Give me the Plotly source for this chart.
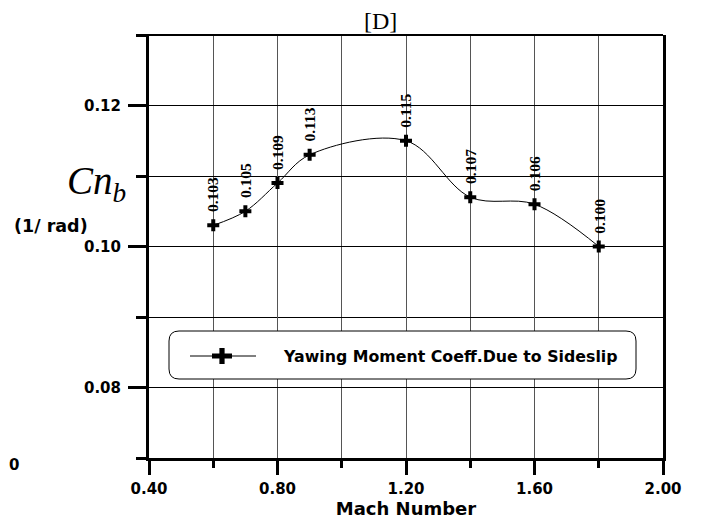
import plotly.graph_objects as go

# ---- data ----
mach = [0.6, 0.7, 0.8, 0.9, 1.2, 1.4, 1.6, 1.8]
cnb = [0.103, 0.105, 0.109, 0.113, 0.115, 0.107, 0.106, 0.100]
value_labels = ["0.103", "0.105", "0.109", "0.113", "0.115", "0.107", "0.106", "0.100"]
series_name = "Yawing Moment Coeff.Due to Sideslip"
x_ticks = [0.4, 0.8, 1.2, 1.6, 2.0]
y_ticks = [0.08, 0.10, 0.12]

PAGE_W, PAGE_H = 703, 519
OFF = 8  # default body margin of the html page
W, H = PAGE_W - OFF, PAGE_H - OFF
L, R, T, B = 149, 663, 35, 458  # plot area in page pixels


def px(p):
    return (p - L) / (R - L)


def py(p):
    return (B - p) / (B - T)


SANS = "DejaVu Sans"
SERIF = "Liberation Serif"

fig = go.Figure()
fig.add_trace(go.Scatter(
    x=mach, y=cnb, name=series_name, mode="lines+markers",
    line=dict(color="black", width=1, shape="spline", smoothing=1.0),
    marker=dict(symbol="cross", size=10, color="black", line=dict(width=0)),
    showlegend=False,
))

annotations = []
for xv, yv, lab in zip(mach, cnb, value_labels):
    annotations.append(dict(
        x=xv, y=yv, xref="x", yref="y", text=lab, textangle=-90,
        showarrow=False, xanchor="center", yanchor="bottom", yshift=11,
        font=dict(family=SERIF, size=15.5, color="black", weight="bold"),
    ))

# title
annotations.append(dict(
    x=px(380), y=py(21), xref="paper", yref="paper", text="[D]",
    showarrow=False, xanchor="center", yanchor="middle",
    font=dict(family=SERIF, size=24, color="black"),
))
# y-axis titles
annotations.append(dict(
    x=px(65), y=py(184), xref="paper", yref="paper", text="<i>Cn<sub>b</sub></i>",
    showarrow=False, xanchor="left", yanchor="middle",
    font=dict(family=SERIF, size=39, color="black"),
))
annotations.append(dict(
    x=px(12), y=py(226), xref="paper", yref="paper", text="(1/ rad)",
    showarrow=False, xanchor="left", yanchor="middle",
    font=dict(family=SANS, size=17.5, color="black", weight="bold"),
))
# clipped stray label at bottom-left
annotations.append(dict(
    x=px(OFF - 1), y=py(465), xref="paper", yref="paper", text="0",
    showarrow=False, xanchor="left", yanchor="middle",
    font=dict(family=SANS, size=15, color="black", weight="bold"),
))
# legend text
annotations.append(dict(
    x=px(281), y=py(356), xref="paper", yref="paper", text=series_name,
    showarrow=False, xanchor="left", yanchor="middle",
    font=dict(family=SANS, size=15.8, color="black", weight="bold"),
))

# legend box (rounded)
x0, x1, y0, y1 = px(169), px(636), py(379), py(331)
rx, ry = 10 / (R - L), 10 / (B - T)
box = (f"M {x0+rx},{y0} L {x1-rx},{y0} Q {x1},{y0} {x1},{y0+ry} "
       f"L {x1},{y1-ry} Q {x1},{y1} {x1-rx},{y1} L {x0+rx},{y1} "
       f"Q {x0},{y1} {x0},{y1-ry} L {x0},{y0+ry} Q {x0},{y0} {x0+rx},{y0} Z")
cx, cy = 222, 356
hx, hy, t = 10, 8, 2.6
cross = (f"M {px(cx-hx)},{py(cy-t)} L {px(cx-t)},{py(cy-t)} L {px(cx-t)},{py(cy-hy)} "
         f"L {px(cx+t)},{py(cy-hy)} L {px(cx+t)},{py(cy-t)} L {px(cx+hx)},{py(cy-t)} "
         f"L {px(cx+hx)},{py(cy+t)} L {px(cx+t)},{py(cy+t)} L {px(cx+t)},{py(cy+hy)} "
         f"L {px(cx-t)},{py(cy+hy)} L {px(cx-t)},{py(cy+t)} L {px(cx-hx)},{py(cy+t)} Z")
shapes = [
    dict(type="path", path=box, xref="paper", yref="paper", layer="above",
         fillcolor="white", line=dict(color="black", width=1)),
    dict(type="line", x0=px(190), x1=px(256), y0=py(356), y1=py(356),
         xref="paper", yref="paper", layer="above", line=dict(color="black", width=1)),
    dict(type="path", path=cross, xref="paper", yref="paper", layer="above",
         fillcolor="black", line=dict(color="black", width=0)),
    # top frame line
    dict(type="line", x0=px(139), x1=1, y0=1, y1=1, xref="paper", yref="paper",
         layer="above", line=dict(color="black", width=2)),
]

fig.update_layout(
    width=W, height=H,
    margin=dict(l=L - OFF, r=PAGE_W - R, t=T - OFF, b=PAGE_H - B, pad=0, autoexpand=False),
    paper_bgcolor="white", plot_bgcolor="white",
    annotations=annotations, shapes=shapes,
    xaxis=dict(
        range=[0.4, 2.0], tickvals=x_ticks, tickformat=".2f",
        showline=True, linewidth=3, linecolor="black",
        ticks="outside", ticklen=14, tickwidth=3, tickcolor="black",
        showgrid=True, gridcolor="#555", gridwidth=1, zeroline=False,
        ticklabelstandoff=1,
        tickfont=dict(family=SANS, size=15, color="black", weight="bold"),
        minor=dict(dtick=0.2, tick0=0.4, ticks="outside", ticklen=7, tickwidth=3,
                   tickcolor="black", showgrid=True, gridcolor="#555", gridwidth=1),
        title=dict(text="Mach Number", standoff=3,
                   font=dict(family=SANS, size=18, color="black", weight="bold")),
    ),
    yaxis=dict(
        range=[0.07, 0.13], tickvals=y_ticks, tickformat=".2f",
        showline=True, linewidth=3, linecolor="black", mirror=True,
        ticks="outside", ticklen=18, tickwidth=3, tickcolor="black",
        showgrid=True, gridcolor="black", gridwidth=1, zeroline=False,
        ticklabelstandoff=4,
        tickfont=dict(family=SANS, size=15, color="black", weight="bold"),
        minor=dict(dtick=0.01, tick0=0.07, ticks="outside", ticklen=10, tickwidth=3,
                   tickcolor="black", showgrid=True, gridcolor="black", gridwidth=1),
    ),
)

fig.write_html("out.html")
